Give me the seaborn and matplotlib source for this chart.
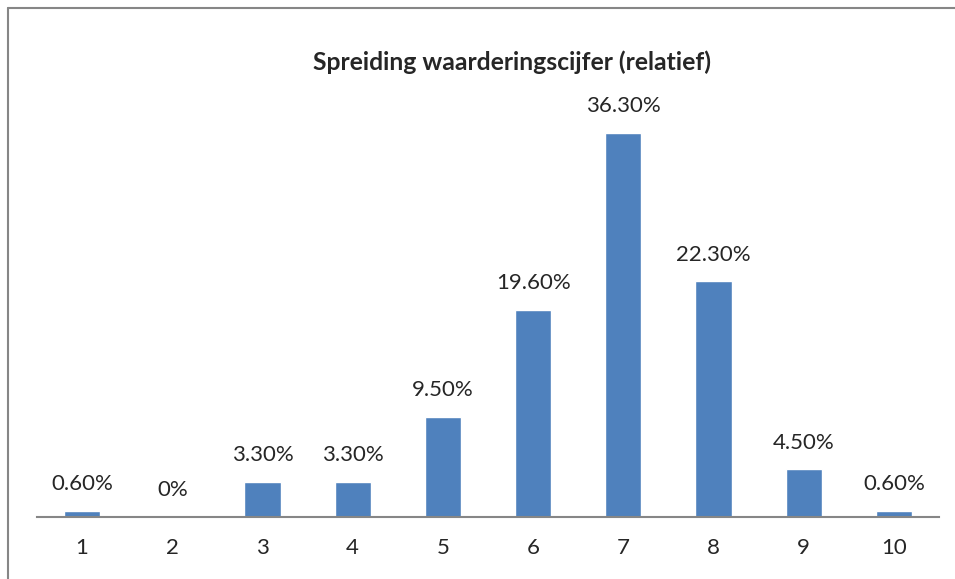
import matplotlib
matplotlib.use("Agg")
import matplotlib.pyplot as plt
import seaborn as sns
import pandas as pd
from matplotlib.lines import Line2D

# ----------------------------------------
# Data
# ----------------------------------------
cijfers = ["1", "2", "3", "4", "5", "6", "7", "8", "9", "10"]
percentages = [0.6, 0.0, 3.3, 3.3, 9.5, 19.6, 36.3, 22.3, 4.5, 0.6]
title = "Spreiding waarderingscijfer (relatief)"

df = pd.DataFrame({"cijfer": cijfers, "pct": percentages})

sns.set_style("white")
plt.rcParams["font.family"] = ["Lato", "DejaVu Sans"]

fig = plt.figure(figsize=(9.55, 5.79), dpi=100)
ax = fig.add_axes([37 / 955, 1 - 517 / 579, (939 - 37) / 955, (517 - 94) / 579])

sns.barplot(data=df, x="cijfer", y="pct", color="#4F81BD", saturation=1,
            width=0.4, ax=ax)

# value labels
for i, v in enumerate(percentages):
    label = "0%" if v == 0 else f"{v:.2f}%"
    ax.annotate(label, (i, v), xytext=(0, 12), textcoords="offset points",
                ha="center", va="bottom", fontsize=16)

ax.set_xlim(-0.5, 9.5)
ax.set_ylim(0, 40)
ax.set_xlabel("")
ax.set_ylabel("")
ax.set_yticks([])
ax.tick_params(axis="x", length=0, pad=15, labelsize=16)
for s in ["top", "right", "left"]:
    ax.spines[s].set_visible(False)
ax.spines["bottom"].set_color("#868686")
ax.spines["bottom"].set_linewidth(1.5)

fig.text(512 / 955, 1 - 62 / 579, title, ha="center", va="center",
         fontsize=17.8, fontweight="bold")

# chart border (top and left visible)
fig.add_artist(Line2D([7.5 / 955, 7.5 / 955], [0, 1 - 7.5 / 579],
                      transform=fig.transFigure, color="#868686", lw=1.5))
fig.add_artist(Line2D([7.5 / 955, 1], [1 - 7.5 / 579, 1 - 7.5 / 579],
                      transform=fig.transFigure, color="#868686", lw=1.5))

fig.savefig("out.png", dpi=100)
